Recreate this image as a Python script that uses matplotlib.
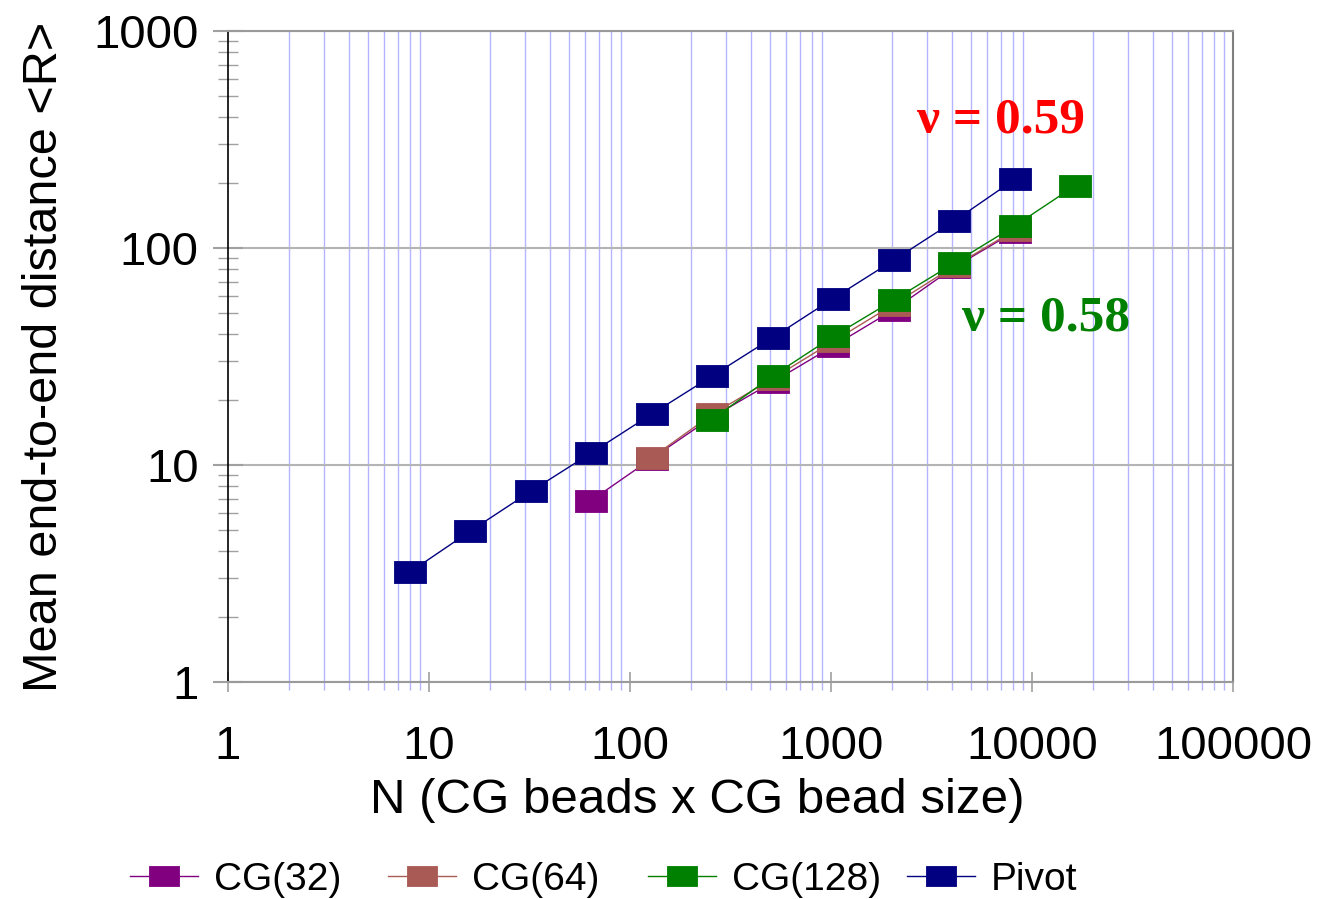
import numpy as np
import matplotlib
matplotlib.use("Agg")
import matplotlib.pyplot as plt
from matplotlib.ticker import LogLocator, NullFormatter, FixedLocator

plt.rcParams['font.family'] = ['Liberation Sans', 'DejaVu Sans']

# ---- data ----
pivot_n = [8, 16, 32, 64, 128, 256, 512, 1024, 2048, 4096, 8192]
pivot_r = [3.2, 4.95, 7.55, 11.35, 17.15, 25.7, 38.6, 58.5, 87.8, 133, 207]

cg32_n = [64, 128, 256, 512, 1024, 2048, 4096, 8192]
cg32_r = [6.85, 10.7, 16.6, 24.1, 35.3, 51.9, 81.5, 119]

cg64_n = [128, 256, 512, 1024, 2048, 4096, 8192]
cg64_r = [10.8, 17.1, 25.0, 37.1, 54.9, 82.4, 120.7]

cg128_n = [256, 512, 1024, 2048, 4096, 8192, 16384]
cg128_r = [16.2, 25.7, 39.1, 57.5, 85.2, 126.3, 193.7]

series = [
    ("CG(32)", cg32_n, cg32_r, "#800080"),
    ("CG(64)", cg64_n, cg64_r, "#aa5a54"),
    ("CG(128)", cg128_n, cg128_r, "#008000"),
    ("Pivot", pivot_n, pivot_r, "#000080"),
]

W, H = 1321, 899
fig = plt.figure(figsize=(W / 100, H / 100), dpi=100)
ax = fig.add_axes([228 / W, 1 - 682 / H, (1233 - 228) / W, (682 - 31) / H])

# wide rectangle marker
rect = [(-1, -0.69), (1, -0.69), (1, 0.69), (-1, 0.69), (-1, -0.69)]

handles = []
for name, n, r, c in series:
    h, = ax.plot(n, r, color=c, lw=1, marker=rect, markersize=23,
                 markerfacecolor=c, markeredgecolor=c, markeredgewidth=0.6,
                 label=name, zorder=3)
    handles.append(h)

ax.set_xscale('log')
ax.set_yscale('log')
ax.set_xlim(1, 100000)
ax.set_ylim(1, 1000)

# x: blue minor grid, no major grid
ax.xaxis.set_major_locator(FixedLocator([1, 10, 100, 1000, 10000, 100000]))
ax.xaxis.set_minor_locator(LogLocator(base=10, subs=np.arange(2, 10), numticks=20))
ax.xaxis.set_minor_formatter(NullFormatter())
ax.set_xticklabels(["1", "10", "100", "1000", "10000", "100000"])
ax.grid(which='minor', axis='x', color='#b4b4ff', lw=1, zorder=0)
ax.tick_params(axis='x', which='major', direction='inout', length=14, width=1.2,
               color='#a0a0a0', labelsize=34, pad=24)
ax.tick_params(axis='x', which='minor', direction='out', length=6, width=1,
               color='#b4b4ff')

# y: gray major grid, minor ticks across the spine
ax.yaxis.set_major_locator(FixedLocator([1, 10, 100, 1000]))
ax.yaxis.set_minor_locator(LogLocator(base=10, subs=np.arange(2, 10), numticks=20))
ax.yaxis.set_minor_formatter(NullFormatter())
ax.set_yticklabels(["1", "10", "100", "1000"])
ax.grid(which='major', axis='y', color='#b4b4b4', lw=1.5, zorder=1)
ax.tick_params(axis='y', which='major', direction='inout', length=22, width=1.5,
               color='#a0a0a0', labelsize=34, pad=10)
ax.tick_params(axis='y', which='minor', direction='inout', length=15, width=1,
               color='#a0a0a0')

for s in ['top', 'bottom']:
    ax.spines[s].set_color('#9a9a9a')
    ax.spines[s].set_linewidth(1.5)
ax.spines['right'].set_color('#808080')
ax.spines['right'].set_linewidth(1.5)
ax.spines['left'].set_color('black')
ax.spines['left'].set_linewidth(1.2)

ax.set_xlabel("N (CG beads x CG bead size)", fontsize=35.5)
ax.xaxis.set_label_coords(0.467, (682 - 778) / 651)
ax.set_ylabel("Mean end-to-end distance <R>", fontsize=35, labelpad=19)

ax.text(2680, 340, "ν = 0.59", color='#ff0000', fontsize=37, fontweight='bold',
        family=['Liberation Serif', 'DejaVu Serif'], ha='left', va='baseline')
ax.text(4490, 41.7, "ν = 0.58", color='#008000', fontsize=37, fontweight='bold',
        family=['Liberation Serif', 'DejaVu Serif'], ha='left', va='baseline')

# legend: fixed-width slots, one legend per entry
leg_x = [130, 388, 648, 907]
for h, x0 in zip(handles, leg_x):
    lg = fig.legend(handles=[h], loc='center left',
                    bbox_to_anchor=(x0 / W, 1 - 880 / H), frameon=False,
                    fontsize=28, handlelength=1.75, handletextpad=0.4,
                    borderpad=0, borderaxespad=0, markerscale=0.95)

fig.savefig("out.png", dpi=100)
